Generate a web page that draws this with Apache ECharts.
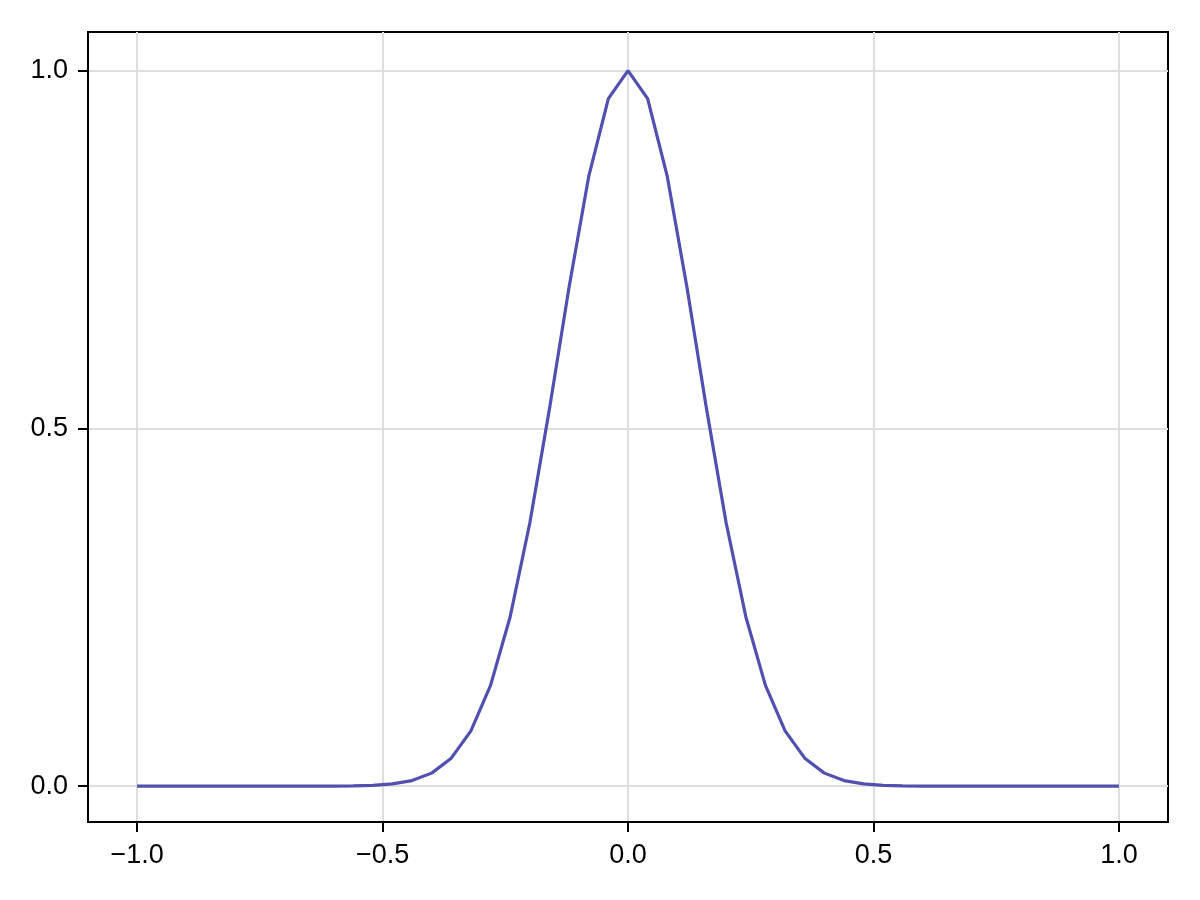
<!DOCTYPE html>
<html>
<head>
<meta charset="utf-8">
<script src="https://cdn.jsdelivr.net/npm/echarts@6/dist/echarts.min.js"></script>
<style>
  html, body { margin: 0; padding: 0; background: #fff; }
  #chart { width: 1200px; height: 900px; }
</style>
</head>
<body>
<div id="chart"></div>
<script>
const xValues = [
  -1.00, -0.96, -0.92, -0.88, -0.84, -0.80, -0.76, -0.72, -0.68, -0.64,
  -0.60, -0.56, -0.52, -0.48, -0.44, -0.40, -0.36, -0.32, -0.28, -0.24,
  -0.20, -0.16, -0.12, -0.08, -0.04, 0.00, 0.04, 0.08, 0.12, 0.16,
  0.20, 0.24, 0.28, 0.32, 0.36, 0.40, 0.44, 0.48, 0.52, 0.56,
  0.60, 0.64, 0.68, 0.72, 0.76, 0.80, 0.84, 0.88, 0.92, 0.96, 1.00
];
const yValues = [
  0, 0, 0, 0, 0, 0, 0, 0, 0, 0,
  0.0001, 0.0004, 0.0012, 0.0032, 0.0079, 0.0183, 0.0392, 0.0773, 0.1409, 0.2369,
  0.3679, 0.5273, 0.6977, 0.8521, 0.9608, 1.0, 0.9608, 0.8521, 0.6977, 0.5273,
  0.3679, 0.2369, 0.1409, 0.0773, 0.0392, 0.0183, 0.0079, 0.0032, 0.0012, 0.0004,
  0.0001, 0, 0, 0, 0, 0, 0, 0, 0, 0, 0
];
const xTicks = [-1.0, -0.5, 0.0, 0.5, 1.0];
const yTicks = [0.0, 0.5, 1.0];

const chart = echarts.init(document.getElementById('chart'));

const fmt = (v) => v.toFixed(1).replace('-', '\u2212');

const axisCommon = {
  type: 'value',
  axisLine: { show: true, onZero: false, lineStyle: { color: '#000', width: 2 } },
  axisTick: { show: true, inside: false, length: 10, lineStyle: { color: '#000', width: 2 } },
  splitLine: { show: true, lineStyle: { color: '#dedede', width: 2 } },
  axisLabel: {
    color: '#000',
    fontFamily: 'Liberation Sans',
    fontSize: 27,
    formatter: fmt
  }
};

chart.setOption({
  animation: false,
  backgroundColor: '#fff',
  grid: {
    left: 88, right: 32, top: 32, bottom: 78,
    show: true, borderColor: '#000', borderWidth: 2, backgroundColor: 'transparent'
  },
  xAxis: {
    ...axisCommon,
    min: -1.1,
    max: 1.1,
    axisTick: { ...axisCommon.axisTick, customValues: xTicks },
    axisLabel: { ...axisCommon.axisLabel, customValues: xTicks, margin: 20 }
  },
  yAxis: {
    ...axisCommon,
    min: -0.05,
    max: 1.054,
    axisTick: { ...axisCommon.axisTick, customValues: yTicks },
    axisLabel: { ...axisCommon.axisLabel, customValues: yTicks, margin: 20 }
  },
  series: [{
    type: 'line',
    data: xValues.map((x, i) => [x, yValues[i]]),
    showSymbol: false,
    lineStyle: { color: '#5050b0', width: 3.2 },
    z: 3
  }]
});
</script>
</body>
</html>
